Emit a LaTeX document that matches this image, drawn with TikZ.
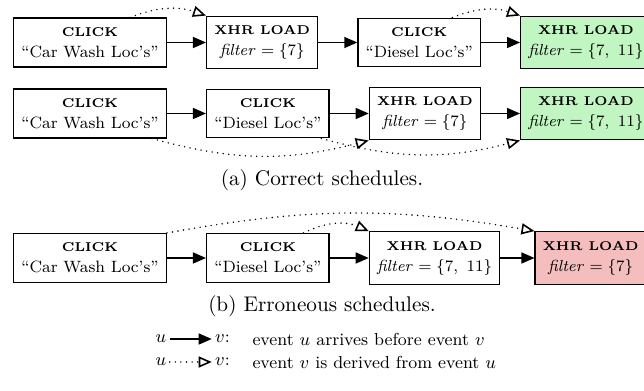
\documentclass[tikz,border=0pt]{standalone}
\usetikzlibrary{arrows.meta,positioning}
\definecolor{okgreen}{RGB}{193,245,193}
\definecolor{badred}{RGB}{245,190,190}
\newcommand{\evhead}[1]{{\fontsize{6.4}{9}\selectfont\bfseries #1}}
\newcommand{\filt}[1]{$\mathit{filter}=\{#1\}$}

\begin{document}
\begin{tikzpicture}[x=0.5pt,y=-0.5pt,node distance=19.5pt,font=\fontsize{8.2}{10.5}\selectfont]
\tikzstyle{evbox}=[rectangle, draw=black, line width=0.7pt, align=center, inner xsep=3.8pt, inner ysep=4.6pt, fill=white]
\tikzstyle{okbox}=[evbox, fill=okgreen]
\tikzstyle{badbox}=[evbox, fill=badred]
\tikzstyle{before}=[-{Triangle[length=6.5pt,width=5.5pt]}, line width=0.7pt]
\tikzstyle{derived}=[-{Triangle[open,length=6.5pt,width=5.5pt]}, line width=0.8pt, dash pattern=on 0pt off 2.8pt, line cap=round]
\tikzstyle{caption}=[font=\fontsize{10.6}{13}\selectfont]
\tikzstyle{legend}=[inner sep=1.5pt, font=\fontsize{8.7}{12}\selectfont]
\useasboundingbox (0,0) rectangle (644,391);
% (a) correct schedules, first row
\node (a1) [evbox, anchor=west] at (13,42.5) {\evhead{CLICK}\\``Car Wash Loc's''};
\node (a2) [evbox, right=of a1] {\evhead{XHR LOAD}\\\filt{7}};
\node (a3) [evbox, right=of a2] {\evhead{CLICK}\\``Diesel Loc's''};
\node (a4) [okbox, right=of a3] {\evhead{XHR LOAD}\\\filt{7,\ 11}};
\draw[before] (a1) -- (a2);
\draw[before] (a2) -- (a3);
\draw[before] (a3) -- (a4);
\draw[derived] (a1.32) to[bend left=20] (a2.north west);
\draw[derived] (a3.37) to[bend left=20] (a4.north west);
% (a) correct schedules, second row
\node (b1) [evbox, anchor=west] at (13,113.5) {\evhead{CLICK}\\``Car Wash Loc's''};
\node (b2) [evbox, right=of b1] {\evhead{CLICK}\\``Diesel Loc's''};
\node (b3) [evbox, right=of b2] {\evhead{XHR LOAD}\\\filt{7}};
\node (b4) [okbox, right=of b3] {\evhead{XHR LOAD}\\\filt{7,\ 11}};
\draw[before] (b1) -- (b2);
\draw[before] (b2) -- (b3);
\draw[before] (b3) -- (b4);
\draw[derived] (b1.-22) to[bend right=15] (b3.south west);
\draw[derived] (b2.-25) to[bend right=15] (b4.south west);
\node (capa) [caption] at (322,180) {(a) Correct schedules.};
% (b) erroneous schedules
\node (c1) [evbox, anchor=west] at (13,258) {\evhead{CLICK}\\``Car Wash Loc's''};
\node (c2) [evbox, right=of c1] {\evhead{CLICK}\\``Diesel Loc's''};
\node (c3) [evbox, right=of c2] {\evhead{XHR LOAD}\\\filt{7,\ 11}};
\node (c4) [badbox, right=17pt of c3] {\evhead{XHR LOAD}\\\filt{7}};
\draw[before] (c1) -- (c2);
\draw[before] (c2) -- (c3);
\draw[before] (c3) -- (c4);
\draw[derived] (c1.north east) to[bend left=10] (c4.north west);
\draw[derived] (c2.35) to[bend left=25] (c3.north west);
\node (capb) [caption] at (322,306) {(b) Erroneous schedules.};
% legend
\node (lu1) [legend] at (161,339) {$u$};
\node (lv1) [legend, right=21pt of lu1] {$v$:};
\node (lt1) [legend, right=8pt of lv1] {event $u$ arrives before event $v$};
\node (lu2) [legend] at (161,362) {$u$};
\node (lv2) [legend, right=21pt of lu2] {$v$:};
\node (lt2) [legend, right=8pt of lv2] {event $v$ is derived from event $u$};
\draw[before] (lu1) -- (lv1);
\draw[derived] (lu2) -- (lv2);
\end{tikzpicture}
\end{document}
